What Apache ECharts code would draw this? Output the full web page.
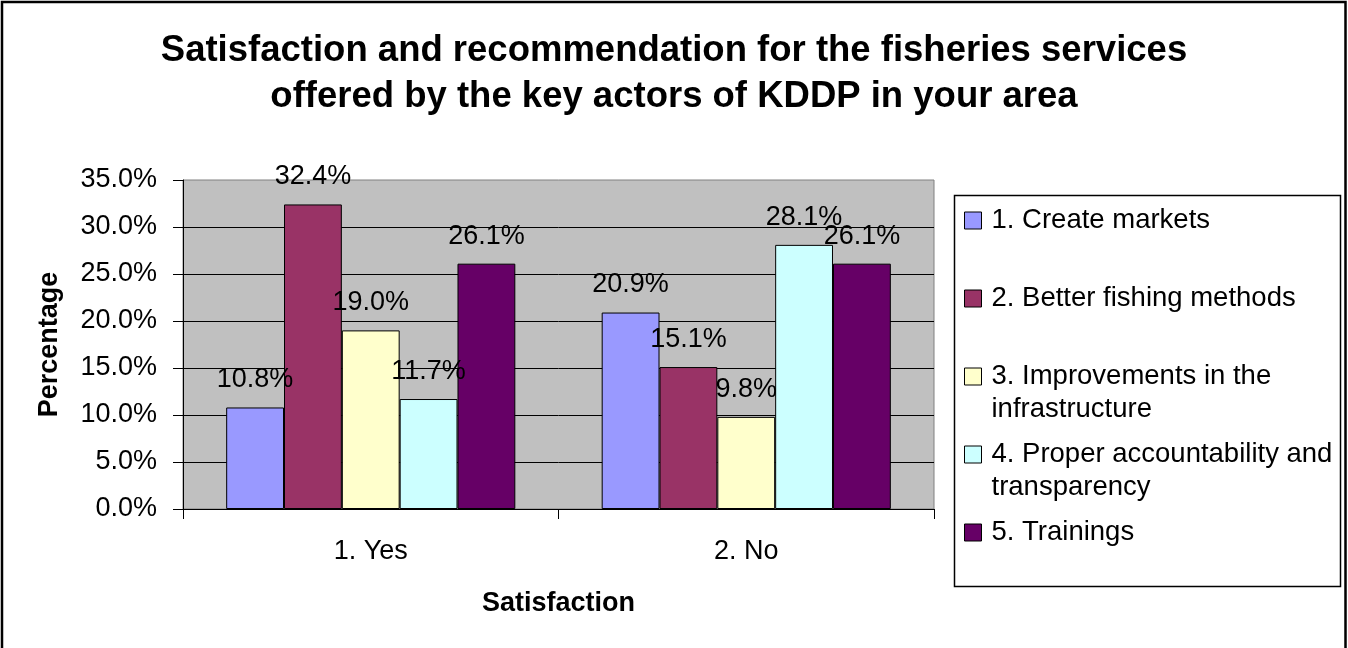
<!DOCTYPE html>
<html>
<head>
<meta charset="utf-8">
<title>Satisfaction and recommendation</title>
<script src="https://cdn.jsdelivr.net/npm/echarts@6/dist/echarts.min.js"></script>
<style>
  html, body { margin: 0; padding: 0; background: #ffffff; }
  #chart { width: 1348px; height: 648px; }
</style>
</head>
<body>
<div id="chart"></div>
<script>
// Categories on the x axis (satisfaction answer)
const categories = ['1. Yes', '2. No'];

// Series names and their values in percent, one value per category
const seriesNames = [
  '1. Create markets',
  '2. Better fishing methods',
  '3. Improvements in the infrastructure',
  '4. Proper accountability and transparency',
  '5. Trainings'
];
const createMarkets = [10.8, 20.9];
const betterFishingMethods = [32.4, 15.1];
const infrastructure = [19.0, 9.8];
const accountability = [11.7, 28.1];
const trainings = [26.1, 26.1];

// How each legend entry is broken over lines
const legendLines = [
  ['1. Create markets'],
  ['2. Better fishing methods'],
  ['3. Improvements in the', 'infrastructure'],
  ['4. Proper accountability and', 'transparency'],
  ['5. Trainings']
];

// Y axis range (percent)
const yMin = 0;
const yMax = 35;
const yStep = 5;

const seriesValues = [createMarkets, betterFishingMethods, infrastructure, accountability, trainings];
const seriesColors = ['#9999FF', '#993366', '#FFFFCC', '#CCFFFF', '#660066'];

const FONT = '"Liberation Sans", Arial, Helvetica, sans-serif';

const chart = echarts.init(document.getElementById('chart'), null, { renderer: 'canvas' });

const series = seriesNames.map(function (name, i) {
  return {
    name: name,
    type: 'bar',
    data: seriesValues[i],
    barGap: '0%',
    barCategoryGap: '23%',
    itemStyle: { color: seriesColors[i], borderColor: '#000000', borderWidth: 1 },
    label: {
      show: true,
      position: 'top',
      distance: 12,
      formatter: function (p) { return p.value.toFixed(1) + '%'; },
      fontFamily: FONT,
      fontSize: 27,
      lineHeight: 31,
      color: '#000000'
    },
    emphasis: { disabled: true }
  };
});

// Every legend entry gets three text rows so the first real line sits beside the swatch
function legendText(name) {
  const idx = seriesNames.indexOf(name);
  const lines = legendLines[idx].slice();
  if (lines.length < 2) lines.push('\u00a0');
  return ['\u00a0'].concat(lines).join('\n');
}

const option = {
  animation: false,
  backgroundColor: '#ffffff',
  title: {
    text: 'Satisfaction and recommendation for the fisheries services\noffered by the key actors of KDDP in your area',
    left: 'center',
    top: 23,
    textStyle: {
      fontFamily: FONT,
      fontSize: 36.5,
      fontWeight: 'bold',
      lineHeight: 46,
      color: '#000000',
      align: 'center'
    }
  },
  grid: {
    left: 183,
    right: 414,
    top: 180,
    bottom: 139,
    show: true,
    backgroundColor: '#C0C0C0',
    borderColor: '#808080',
    borderWidth: 1,
    containLabel: false
  },
  legend: {
    orient: 'vertical',
    left: 964,
    top: 171,
    padding: 0,
    itemGap: -21,
    itemWidth: 17,
    itemHeight: 17,
    icon: 'rect',
    itemStyle: { borderColor: '#000000', borderWidth: 1 },
    selectedMode: false,
    data: seriesNames,
    formatter: legendText,
    textStyle: {
      fontFamily: FONT,
      fontSize: 27.5,
      lineHeight: 33,
      color: '#000000',
      padding: [0, 0, 0, 5]
    }
  },
  xAxis: {
    type: 'category',
    data: categories,
    name: 'Satisfaction',
    nameLocation: 'middle',
    nameGap: 79,
    nameTextStyle: { fontFamily: FONT, fontSize: 27, fontWeight: 'bold', color: '#000000', lineHeight: 31 },
    axisLine: { show: true, lineStyle: { color: '#000000', width: 1 } },
    axisTick: { show: true, alignWithLabel: false, length: 10, lineStyle: { color: '#000000', width: 1 } },
    axisLabel: { fontFamily: FONT, fontSize: 27, lineHeight: 31, color: '#000000', margin: 27 },
    splitLine: { show: false }
  },
  yAxis: {
    type: 'value',
    min: yMin,
    max: yMax,
    interval: yStep,
    name: 'Percentage',
    nameLocation: 'middle',
    nameRotate: 90,
    nameGap: 118,
    nameTextStyle: { fontFamily: FONT, fontSize: 27, fontWeight: 'bold', color: '#000000', lineHeight: 31 },
    axisLine: { show: true, lineStyle: { color: '#000000', width: 1 } },
    axisTick: { show: true, inside: false, length: 10, lineStyle: { color: '#000000', width: 1 } },
    axisLabel: {
      fontFamily: FONT,
      fontSize: 27,
      color: '#000000',
      margin: 26,
      formatter: function (v) { return v.toFixed(1) + '%'; }
    },
    splitLine: { show: true, showMaxLine: false, lineStyle: { color: '#000000', width: 1 } }
  },
  graphic: [
    {
      type: 'rect',
      silent: true,
      z: -1,
      shape: { x: 2, y: 2, width: 1343.5, height: 700 },
      style: { fill: 'none', stroke: '#000000', lineWidth: 2.5 }
    },
    {
      type: 'rect',
      silent: true,
      z: -1,
      shape: { x: 954.5, y: 195.5, width: 386, height: 391 },
      style: { fill: '#ffffff', stroke: '#000000', lineWidth: 1.5 }
    }
  ],
  series: series
};

chart.setOption(option);
</script>
</body>
</html>
